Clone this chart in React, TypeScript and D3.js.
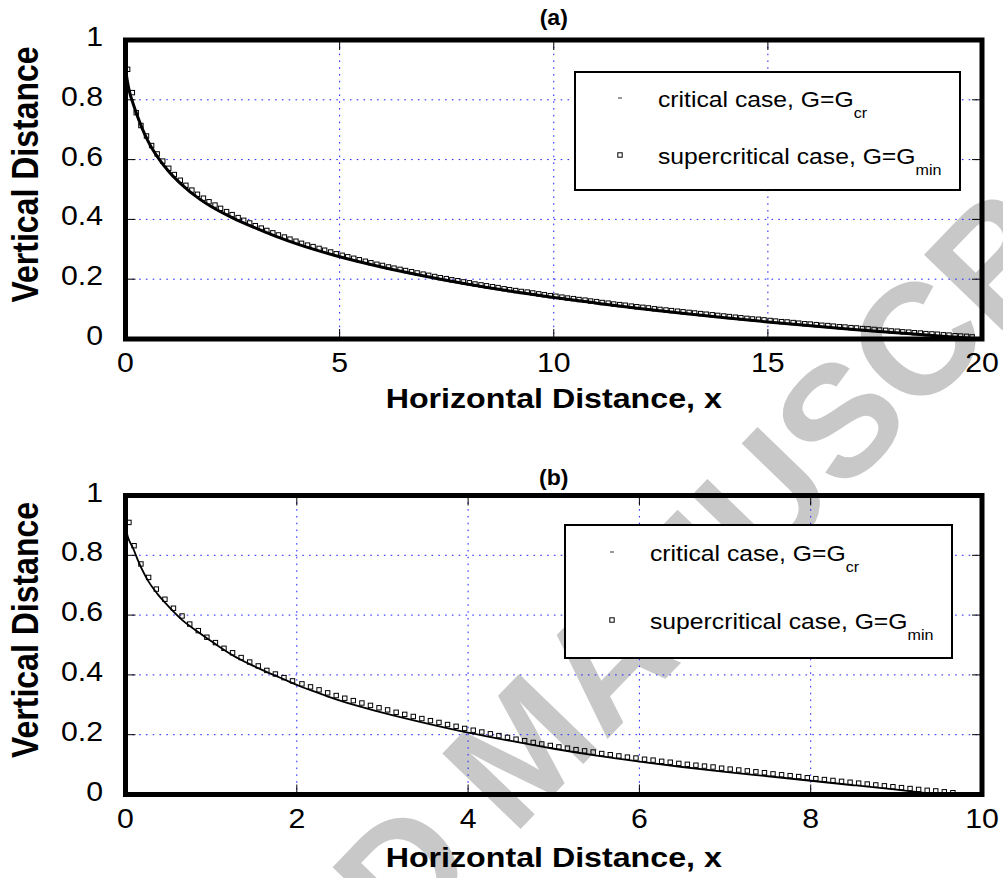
import React from "react";
import * as d3 from "d3";

// ---- data -------------------------------------------------------------
const yTicks = [0, 0.2, 0.4, 0.6, 0.8, 1];
const xTicksA = [0, 5, 10, 15, 20];
const xTicksB = [0, 2, 4, 6, 8, 10];

// panel (a): critical case, G = Gcr (continuous profile)
const criticalA: [number, number][] = [
  [0, 0.91], [0.02, 0.885], [0.05, 0.857], [0.1, 0.823], [0.18, 0.786], [0.3, 0.737],
  [0.45, 0.684], [0.6, 0.642], [0.8, 0.598], [1.0, 0.562], [1.3, 0.518], [1.74, 0.467],
  [2.0, 0.443], [2.5, 0.405], [3.0, 0.373], [3.5, 0.344], [4.0, 0.318], [5.0, 0.275],
  [6.0, 0.24], [7.0, 0.21], [8.0, 0.183], [9.0, 0.16], [10.0, 0.139], [11.0, 0.12],
  [12.0, 0.102], [13.0, 0.086], [14.0, 0.071], [15.0, 0.057], [16.0, 0.044], [17.0, 0.032],
  [18.0, 0.021], [19.0, 0.01], [19.8, 0.002],
];

// panel (a): supercritical case, G = Gmin (sampled points)
const supercriticalA: [number, number][] = [
  [0.05, 0.902], [0.16, 0.824], [0.25, 0.757], [0.36, 0.714], [0.49, 0.679], [0.61, 0.647],
  [0.74, 0.619], [0.87, 0.595], [1.01, 0.571], [1.14, 0.55], [1.28, 0.531], [1.41, 0.514],
  [1.55, 0.498], [1.68, 0.484], [1.82, 0.471], [1.95, 0.459], [2.09, 0.448], [2.22, 0.437],
  [2.36, 0.426], [2.49, 0.416], [2.63, 0.406], [2.76, 0.397], [2.9, 0.388], [3.03, 0.379],
  [3.17, 0.371], [3.3, 0.363], [3.44, 0.355], [3.57, 0.348], [3.71, 0.341], [3.84, 0.334],
  [3.98, 0.327], [4.11, 0.32], [4.25, 0.314], [4.38, 0.309], [4.52, 0.303], [4.65, 0.297],
  [4.79, 0.291], [4.92, 0.285], [5.06, 0.28], [5.19, 0.275], [5.33, 0.27], [5.46, 0.265],
  [5.6, 0.26], [5.73, 0.255], [5.87, 0.25], [6.0, 0.246], [6.14, 0.241], [6.27, 0.237],
  [6.41, 0.233], [6.54, 0.229], [6.68, 0.225], [6.81, 0.221], [6.95, 0.217], [7.08, 0.213],
  [7.22, 0.209], [7.35, 0.205], [7.49, 0.202], [7.62, 0.198], [7.76, 0.195], [7.89, 0.191],
  [8.03, 0.188], [8.16, 0.184], [8.3, 0.181], [8.43, 0.178], [8.57, 0.175], [8.7, 0.172],
  [8.84, 0.168], [8.97, 0.165], [9.11, 0.162], [9.24, 0.159], [9.38, 0.157], [9.51, 0.154],
  [9.65, 0.151], [9.78, 0.148], [9.92, 0.145], [10.05, 0.143], [10.19, 0.14], [10.32, 0.137],
  [10.46, 0.135], [10.59, 0.132], [10.73, 0.13], [10.86, 0.127], [11.0, 0.125], [11.13, 0.122],
  [11.27, 0.12], [11.4, 0.117], [11.54, 0.115], [11.67, 0.113], [11.81, 0.11], [11.94, 0.108],
  [12.08, 0.106], [12.21, 0.104], [12.35, 0.101], [12.48, 0.099], [12.62, 0.097], [12.75, 0.095],
  [12.89, 0.093], [13.02, 0.091], [13.16, 0.089], [13.29, 0.087], [13.43, 0.085], [13.56, 0.083],
  [13.7, 0.081], [13.83, 0.079], [13.97, 0.077], [14.1, 0.075], [14.24, 0.073], [14.37, 0.071],
  [14.51, 0.069], [14.64, 0.067], [14.78, 0.066], [14.91, 0.064], [15.05, 0.062], [15.18, 0.06],
  [15.32, 0.058], [15.45, 0.057], [15.59, 0.055], [15.72, 0.053], [15.86, 0.051], [15.99, 0.05],
  [16.13, 0.048], [16.26, 0.046], [16.4, 0.045], [16.53, 0.043], [16.67, 0.041], [16.8, 0.04],
  [16.94, 0.038], [17.07, 0.037], [17.21, 0.035], [17.34, 0.034], [17.48, 0.032], [17.61, 0.03],
  [17.75, 0.029], [17.88, 0.027], [18.02, 0.026], [18.15, 0.024], [18.29, 0.023], [18.42, 0.021],
  [18.56, 0.02], [18.69, 0.018], [18.83, 0.017], [18.96, 0.016], [19.1, 0.014], [19.23, 0.013],
  [19.37, 0.011], [19.5, 0.01], [19.64, 0.009], [19.77, 0.007],
];

// panel (b): critical case, G = Gcr
const criticalB: [number, number][] = [
  [0, 0.905], [0.02, 0.87], [0.05, 0.845], [0.08, 0.829], [0.15, 0.78], [0.27, 0.712],
  [0.37, 0.672], [0.47, 0.639], [0.66, 0.584], [0.86, 0.541], [1.05, 0.503], [1.25, 0.466],
  [1.45, 0.436], [1.64, 0.411], [1.85, 0.385], [2.03, 0.363], [2.25, 0.34], [2.46, 0.318],
  [3.0, 0.274], [3.5, 0.239], [4.0, 0.207], [4.5, 0.179], [5.0, 0.153], [5.5, 0.13],
  [6.0, 0.11], [6.5, 0.092], [7.0, 0.076], [7.5, 0.061], [8.0, 0.046], [8.5, 0.031],
  [9.0, 0.016], [9.4, 0.003],
];

// panel (b): supercritical case, G = Gmin
const supercriticalB: [number, number][] = [
  [0.04, 0.91], [0.1, 0.832], [0.18, 0.771], [0.27, 0.726], [0.36, 0.687], [0.46, 0.653],
  [0.56, 0.623], [0.66, 0.597], [0.75, 0.57], [0.85, 0.548], [0.95, 0.526], [1.05, 0.508],
  [1.15, 0.489], [1.25, 0.474], [1.35, 0.458], [1.45, 0.443], [1.55, 0.43], [1.65, 0.415],
  [1.75, 0.403], [1.85, 0.391], [1.95, 0.38], [2.06, 0.37], [2.16, 0.36], [2.26, 0.35],
  [2.36, 0.34], [2.46, 0.331], [2.56, 0.322], [2.66, 0.314], [2.76, 0.306], [2.86, 0.298],
  [2.96, 0.29], [3.06, 0.283], [3.16, 0.275], [3.26, 0.268], [3.36, 0.261], [3.46, 0.254],
  [3.56, 0.247], [3.66, 0.241], [3.76, 0.234], [3.86, 0.228], [3.96, 0.221], [4.06, 0.215],
  [4.16, 0.209], [4.26, 0.203], [4.36, 0.197], [4.46, 0.191], [4.56, 0.185], [4.66, 0.18],
  [4.76, 0.174], [4.86, 0.169], [4.96, 0.164], [5.06, 0.159], [5.16, 0.155], [5.26, 0.15],
  [5.36, 0.146], [5.46, 0.142], [5.56, 0.137], [5.66, 0.133], [5.76, 0.129], [5.86, 0.125],
  [5.96, 0.122], [6.06, 0.118], [6.16, 0.115], [6.26, 0.111], [6.36, 0.108], [6.46, 0.104],
  [6.56, 0.101], [6.66, 0.098], [6.76, 0.095], [6.86, 0.092], [6.96, 0.088], [7.06, 0.085],
  [7.16, 0.082], [7.26, 0.079], [7.36, 0.076], [7.46, 0.073], [7.56, 0.069], [7.66, 0.066],
  [7.76, 0.063], [7.86, 0.06], [7.96, 0.056], [8.06, 0.053], [8.16, 0.05], [8.26, 0.047],
  [8.36, 0.044], [8.46, 0.041], [8.56, 0.038], [8.66, 0.035], [8.76, 0.032], [8.86, 0.029],
  [8.96, 0.026], [9.06, 0.023], [9.16, 0.02], [9.26, 0.017], [9.36, 0.014], [9.46, 0.012],
  [9.56, 0.009], [9.66, 0.006],
];

const legendLabels = ["critical case, G=G", "supercritical case, G=G"];
const legendSubscripts = ["cr", "min"];

// ---- layout / style ---------------------------------------------------
const W = 1003;
const H = 878;
const FONT = "'Liberation Sans', Arial, Helvetica, sans-serif";
const SX = 1.15; // glyphs are drawn slightly wide
const GRID = "#1f1fff";
const MARK = 4.4;

type PanelProps = {
  title: string;
  titleY: number;
  top: number;
  bottom: number;
  xTitleY: number;
  xMax: number;
  xTicks: number[];
  critical: [number, number][];
  supercritical: [number, number][];
  lineWidth: number;
  legend: { x0: number; y0: number; x1: number; y1: number; row1: number; row2: number; markX: number; textX: number };
};

const LEFT = 125.5;
const RIGHT = 982;

function Panel(p: PanelProps) {
  const x = d3.scaleLinear().domain([0, p.xMax]).range([LEFT, RIGHT]);
  const y = d3.scaleLinear().domain([0, 1]).range([p.bottom, p.top]);
  const line = d3
    .line<[number, number]>()
    .x((d) => x(d[0]))
    .y((d) => y(d[1]))
    .curve(d3.curveMonotoneX);
  const innerX = p.xTicks.filter((t) => t > 0 && t < p.xMax);
  const innerY = yTicks.filter((t) => t > 0 && t < 1);
  const tickLen = 10;
  const midY = (p.top + p.bottom) / 2;
  const L = p.legend;

  return (
    <g>
      {/* grid */}
      <g stroke={GRID} strokeWidth={1} strokeDasharray="1.6,5.2">
        {innerX.map((t) => (
          <line key={"gx" + t} x1={x(t)} x2={x(t)} y1={p.top} y2={p.bottom} />
        ))}
        {innerY.map((t) => (
          <line key={"gy" + t} x1={LEFT} x2={RIGHT} y1={y(t)} y2={y(t)} />
        ))}
      </g>
      {/* inward ticks */}
      <g stroke="#000" strokeWidth={1}>
        {innerX.map((t) => (
          <g key={"tx" + t}>
            <line x1={x(t)} x2={x(t)} y1={p.bottom} y2={p.bottom - tickLen} />
            <line x1={x(t)} x2={x(t)} y1={p.top} y2={p.top + tickLen} />
          </g>
        ))}
        {innerY.map((t) => (
          <g key={"ty" + t}>
            <line x1={LEFT} x2={LEFT + tickLen} y1={y(t)} y2={y(t)} />
            <line x1={RIGHT} x2={RIGHT - tickLen} y1={y(t)} y2={y(t)} />
          </g>
        ))}
      </g>
      {/* critical profile */}
      <path d={line(p.critical) || ""} fill="none" stroke="#000" strokeWidth={p.lineWidth} />
      {/* supercritical points */}
      <g fill="none" stroke="#000" strokeWidth={1}>
        {p.supercritical.map((d, i) => (
          <rect key={i} x={x(d[0]) - MARK / 2} y={y(d[1]) - MARK / 2} width={MARK} height={MARK} />
        ))}
      </g>
      {/* legend */}
      <rect x={L.x0} y={L.y0} width={L.x1 - L.x0} height={L.y1 - L.y0} fill="#fff" stroke="#000" strokeWidth={2} />
      <line x1={L.markX - 2} x2={L.markX + 2} y1={L.row1} y2={L.row1} stroke="#333" strokeWidth={1} />
      <rect x={L.markX - MARK / 2} y={L.row2 - MARK / 2} width={MARK} height={MARK} fill="none" stroke="#000" strokeWidth={1} />
      {[L.row1, L.row2].map((ry, i) => (
        <g key={"lg" + i} transform={`translate(${L.textX},${ry + 8.5}) scale(${SX},1)`}>
          <text fontFamily={FONT} fontSize={21.5} fill="#000">
            {legendLabels[i]}
            <tspan fontSize={14} dy={11.5}>
              {legendSubscripts[i]}
            </tspan>
          </text>
        </g>
      ))}
      {/* frame */}
      <rect x={LEFT} y={p.top} width={RIGHT - LEFT} height={p.bottom - p.top} fill="none" stroke="#000" strokeWidth={5} />
      {/* y tick labels */}
      {yTicks.map((t) => (
        <g key={"yl" + t} transform={`translate(103,${y(t) + 6}) scale(1.08,1)`}>
          <text fontFamily={FONT} fontSize={28} textAnchor="end" fill="#000">
            {String(t)}
          </text>
        </g>
      ))}
      {/* x tick labels */}
      {p.xTicks.map((t) => (
        <g key={"xl" + t} transform={`translate(${x(t)},${p.bottom + 33}) scale(1.08,1)`}>
          <text fontFamily={FONT} fontSize={28} textAnchor="middle" fill="#000">
            {String(t)}
          </text>
        </g>
      ))}
      {/* axis titles */}
      <g transform={`translate(${(LEFT + RIGHT) / 2},${p.xTitleY}) scale(${SX},1)`}>
        <text fontFamily={FONT} fontSize={28} fontWeight="bold" textAnchor="middle" fill="#000">
          Horizontal Distance, x
        </text>
      </g>
      <g transform={`translate(38,${midY - 15}) rotate(-90) scale(1,${SX})`}>
        <text fontFamily={FONT} fontSize={32} fontWeight="bold" textAnchor="middle" fill="#000">
          Vertical Distance
        </text>
      </g>
      {/* panel title */}
      <g transform={`translate(${(LEFT + RIGHT) / 2},${p.titleY}) scale(1.05,1)`}>
        <text fontFamily={FONT} fontSize={22} fontWeight="bold" textAnchor="middle" fill="#000">
          {p.title}
        </text>
      </g>
    </g>
  );
}

export default function App() {
  return (
    <svg
      width={W}
      height={H}
      viewBox={`0 0 ${W} ${H}`}
      style={{ position: "absolute", left: 0, top: 0, background: "#fff" }}
    >
      <rect x={0} y={0} width={W} height={H} fill="#fff" />
      {/* watermark */}
      <text
        transform="translate(562,786) rotate(-46)"
        fontFamily={FONT}
        fontWeight="bold"
        fontSize={158}
        fill="#c8c8c8"
        textAnchor="middle"
      >
        ACCEPTED MANUSCRIPT
      </text>
      <Panel
        title="(a)"
        titleY={25}
        top={40}
        bottom={339}
        xTitleY={408}
        xMax={20}
        xTicks={xTicksA}
        critical={criticalA}
        supercritical={supercriticalA}
        lineWidth={3}
        legend={{ x0: 575, y0: 72, x1: 960, y1: 190, row1: 98, row2: 155, markX: 620, textX: 658 }}
      />
      <Panel
        title="(b)"
        titleY={485}
        top={495.5}
        bottom={794.5}
        xTitleY={867}
        xMax={10}
        xTicks={xTicksB}
        critical={criticalB}
        supercritical={supercriticalB}
        lineWidth={1.8}
        legend={{ x0: 565, y0: 525, x1: 952, y1: 658, row1: 552, row2: 620, markX: 612, textX: 650 }}
      />
    </svg>
  );
}
